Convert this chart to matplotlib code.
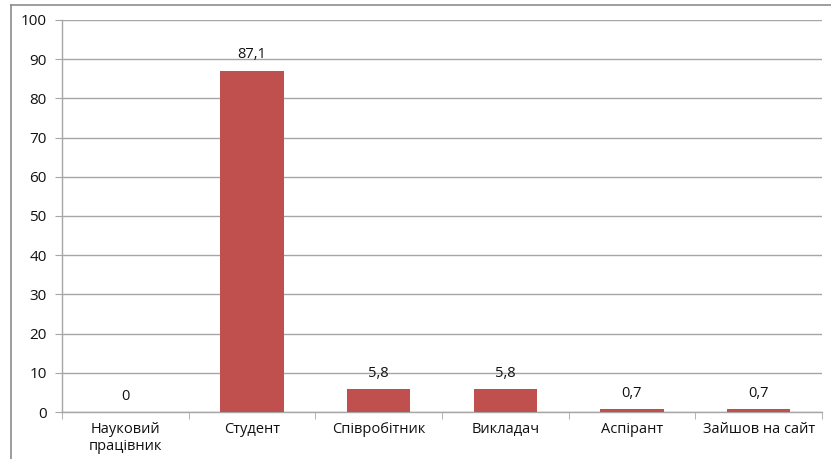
import matplotlib
matplotlib.use('Agg')
from matplotlib import pyplot as plt
from matplotlib.lines import Line2D

categories = ['Науковий\nпрацівник', 'Студент', 'Співробітник', 'Викладач', 'Аспірант', 'Зайшов на сайт']
values = [0, 87.1, 5.8, 5.8, 0.7, 0.7]
value_labels = ['0', '87,1', '5,8', '5,8', '0,7', '0,7']
yticks = list(range(0, 101, 10))

BAR_COLOR = '#C0504D'
GRID_COLOR = '#A6A6A6'
TEXT_COLOR = '#111111'

plt.rcParams['font.family'] = ['Open Sans', 'DejaVu Sans']

W, H = 831, 459
fig = plt.figure(figsize = (W / 100, H / 100), dpi = 100)
ax = fig.add_axes([62 / W, 1 - 412 / H, (822 - 62) / W, (412 - 20) / H])

x = list(range(len(categories)))
ax.bar(x, values, width = 0.5, color = BAR_COLOR, zorder = 3)

ax.set_xlim(-0.5, len(categories) - 0.5)
ax.set_ylim(0, 100)
ax.set_yticks(yticks)
ax.set_yticklabels([str(t) for t in yticks], fontsize = 11, color = TEXT_COLOR)

# category labels centred, ticks sit on category boundaries
ax.set_xticks(x)
ax.set_xticklabels(categories, fontsize = 10.5, color = TEXT_COLOR, linespacing = 1.2)
ax.tick_params(axis = 'x', which = 'major', length = 0, pad = 7)
ax.set_xticks([i - 0.5 for i in range(len(categories) + 1)], minor = True)
ax.tick_params(axis = 'x', which = 'minor', length = 5, color = GRID_COLOR)
ax.tick_params(axis = 'y', length = 5, color = GRID_COLOR, pad = 6)

ax.grid(True, axis = 'y', color = GRID_COLOR, linewidth = 1, zorder = 0)
for side in ['top', 'right']:
  ax.spines[side].set_visible(False)
for side in ['left', 'bottom']:
  ax.spines[side].set_color(GRID_COLOR)
  ax.spines[side].set_linewidth(1)

for xi, v, lab in zip(x, values, value_labels):
  ax.annotate(lab, xy = (xi, v), xytext = (0, 6), textcoords = 'offset points',
              ha = 'center', va = 'bottom', fontsize = 10.5, color = TEXT_COLOR)

# outer chart frame (top and left edges)
fig.add_artist(Line2D([11 / W, 1], [1 - 5 / H, 1 - 5 / H], color = '#8c8c8c',
                      linewidth = 1.2, transform = fig.transFigure))
fig.add_artist(Line2D([11 / W, 11 / W], [0, 1 - 5 / H], color = '#8c8c8c',
                      linewidth = 1.2, transform = fig.transFigure))

fig.savefig('out.png', dpi = 100)
